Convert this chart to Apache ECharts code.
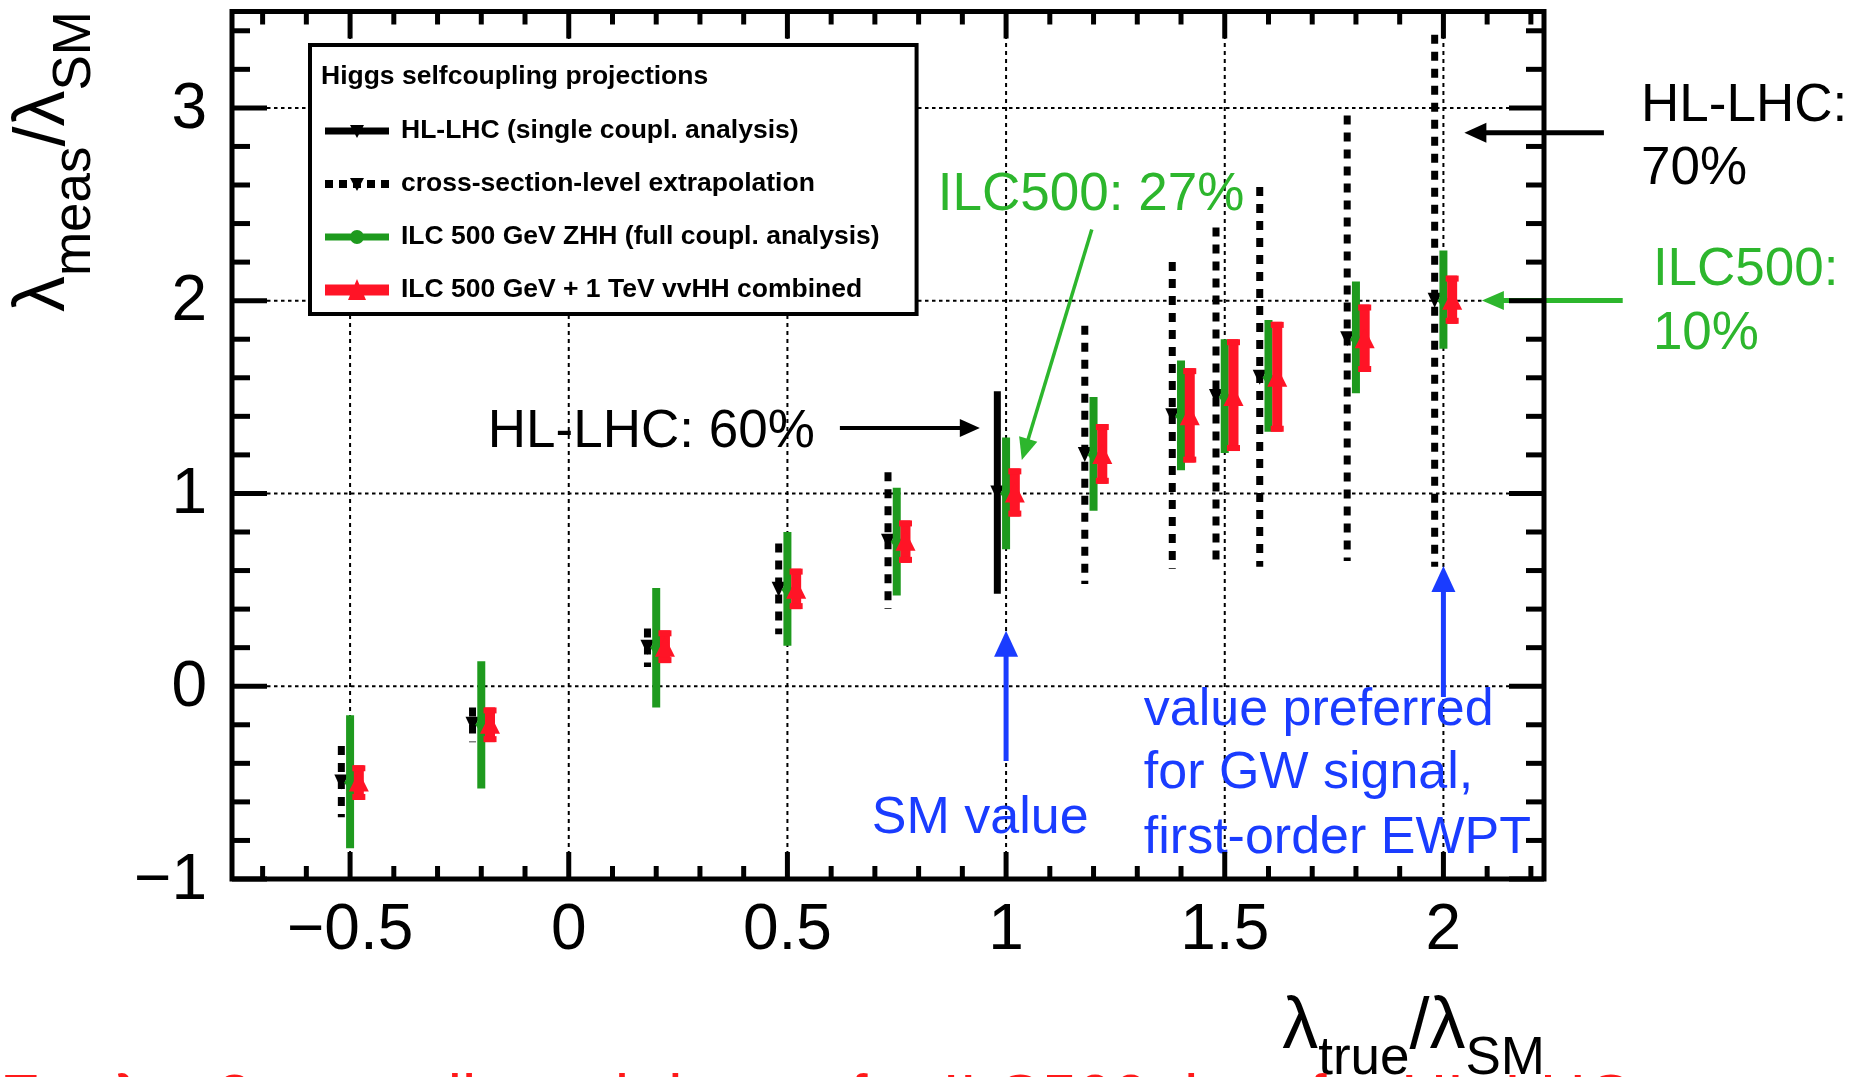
<!DOCTYPE html>
<html><head><meta charset="utf-8">
<script src="https://cdn.jsdelivr.net/npm/echarts@6/dist/echarts.min.js"></script>
<style>html,body{margin:0;padding:0;background:#fff;overflow:hidden}#chart{width:1856px;height:1077px}</style>
</head><body><div id="chart"></div>
<script>
const FONT = "'Liberation Sans', Arial, Helvetica, sans-serif";

// ---------------- data ----------------
const xTicks = [-0.5, 0, 0.5, 1, 1.5, 2];
const xTickLabels = ['\u22120.5', '0', '0.5', '1', '1.5', '2'];
const yTicks = [-1, 0, 1, 2, 3];
const yTickLabels = ['\u22121', '0', '1', '2', '3'];
const yGridValues = [0, 1, 2, 3];

// HL-LHC (single coupl. analysis)
const hlTrue = [1.0];
const hlMeas = [1.0];
const hlLow  = [0.48];
const hlHigh = [1.53];

// cross-section-level extrapolation
const xsecTrue = [-0.5, -0.2, 0.2, 0.5, 0.75, 1.2, 1.4, 1.5, 1.6, 1.8, 2.0];
const xsecMeas = [-0.5, -0.2, 0.2, 0.5, 0.75, 1.2, 1.4, 1.5, 1.6, 1.8, 2.0];
const xsecLow  = [-0.68, -0.29, 0.10, 0.27, 0.40, 0.53, 0.61, 0.63, 0.62, 0.65, 0.62];
const xsecHigh = [-0.31, -0.11, 0.30, 0.74, 1.11, 1.87, 2.20, 2.38, 2.59, 2.96, 3.38];

// ILC 500 GeV ZHH (full coupl. analysis)
const zhhTrue = [-0.5, -0.2, 0.2, 0.5, 0.75, 1.0, 1.2, 1.4, 1.5, 1.6, 1.8, 2.0];
const zhhMeas = [-0.5, -0.2, 0.2, 0.5, 0.75, 1.0, 1.2, 1.4, 1.5, 1.6, 1.8, 2.0];
const zhhLow  = [-0.84, -0.53, -0.11, 0.21, 0.47, 0.71, 0.91, 1.12, 1.21, 1.32, 1.52, 1.75];
const zhhHigh = [-0.15, 0.13, 0.51, 0.80, 1.03, 1.29, 1.50, 1.69, 1.80, 1.90, 2.10, 2.26];

// ILC 500 GeV + 1 TeV vvHH combined
const combTrue = [-0.5, -0.2, 0.2, 0.5, 0.75, 1.0, 1.2, 1.4, 1.5, 1.6, 1.8, 2.0];
const combMeas = [-0.5, -0.2, 0.2, 0.5, 0.75, 1.0, 1.2, 1.4, 1.5, 1.6, 1.8, 2.0];
const combLow  = [-0.59, -0.29, 0.12, 0.40, 0.64, 0.88, 1.05, 1.16, 1.22, 1.32, 1.63, 1.88];
const combHigh = [-0.41, -0.11, 0.29, 0.61, 0.86, 1.13, 1.36, 1.65, 1.80, 1.89, 1.98, 2.13];

const seriesNames = [
  'HL-LHC (single coupl. analysis)',
  'cross-section-level extrapolation',
  'ILC 500 GeV ZHH (full coupl. analysis)',
  'ILC 500 GeV + 1 TeV vvHH combined'
];

// ---------------- styling ----------------
const X_MIN = -0.77, X_MAX = 2.23, Y_MIN = -1, Y_MAX = 3.5;
const C_GREEN = '#1e9a1e', C_RED = '#ff1426', C_TGREEN = '#2db62d', C_BLUE = '#1a3cff';
const TEXT_DY = 2.5; // pixel nudge so that text caps sit where the reference has them

const annotationTexts = [
  {text: 'HL-LHC: 60%', at: [-0.185, 1.329], color: '#000', size: 53},
  {text: 'ILC500: 27%', at: [0.844, 2.558], color: C_TGREEN, size: 53},
  {text: 'HL-LHC:', at: [2.452, 3.020], color: '#000', size: 53},
  {text: '70%', at: [2.452, 2.693], color: '#000', size: 53},
  {text: 'ILC500:', at: [2.479, 2.169], color: C_TGREEN, size: 53},
  {text: '10%', at: [2.479, 1.837], color: C_TGREEN, size: 53},
  {text: 'SM value', at: [0.693, -0.673], color: C_BLUE, size: 52},
  {text: 'value preferred', at: [1.315, -0.113], color: C_BLUE, size: 52},
  {text: 'for GW signal,', at: [1.315, -0.440], color: C_BLUE, size: 52},
  {text: 'first-order EWPT', at: [1.315, -0.776], color: C_BLUE, size: 52}
];
const annotationArrows = [
  {from: [0.620, 1.339], to: [0.940, 1.339], color: '#000', w: 4, L: 20, W: 18},
  {from: [1.196, 2.369], to: [1.036, 1.173], color: C_TGREEN, w: 3.5, L: 22, W: 19},
  {from: [2.367, 2.871], to: [2.048, 2.871], color: '#000', w: 5, L: 22, W: 20},
  {from: [2.410, 2.001], to: [2.088, 2.001], color: C_TGREEN, w: 5, L: 22, W: 19},
  {from: [1.0, -0.388], to: [1.0, 0.288], color: C_BLUE, w: 5, L: 26, W: 24},
  {from: [2.0, -0.056], to: [2.0, 0.624], color: C_BLUE, w: 5, L: 26, W: 24}
];

function range(a, b, step) { const r = []; for (let v = a; v <= b + 1e-9; v += step) r.push(Math.round(v * 1000) / 1000); return r; }
const xMinor = range(-0.7, 2.2, 0.1).filter(v => Math.abs(v * 2 - Math.round(v * 2)) > 1e-6);
const yMinor = range(-0.8, 3.4, 0.2).filter(v => Math.abs(v - Math.round(v)) > 1e-6);

function zip(t, m, l, h) { return t.map((x, i) => [x, m[i], l[i], h[i]]); }

// ---------------- renderers ----------------
function renderGrid(params, api) {
  const cs = params.coordSys;
  const ch = [];
  xTicks.forEach(v => {
    const p = api.coord([v, Y_MIN])[0];
    ch.push({type: 'line', shape: {x1: p, y1: cs.y + cs.height, x2: p, y2: cs.y},
      style: {stroke: '#000', lineWidth: 2, lineDash: [4, 4]}});
  });
  yGridValues.forEach(v => {
    const p = api.coord([X_MIN, v])[1];
    ch.push({type: 'line', shape: {x1: cs.x, y1: p, x2: cs.x + cs.width, y2: p},
      style: {stroke: '#000', lineWidth: 2, lineDash: [3.5, 3.5]}});
  });
  return {type: 'group', children: ch};
}

function renderFrame(params, api) {
  const cs = params.coordSys;
  const L = cs.x, T = cs.y, R = cs.x + cs.width, B = cs.y + cs.height;
  const ch = [];
  const tick = (x1, y1, x2, y2) => ch.push({type: 'line', shape: {x1, y1, x2, y2}, style: {stroke: '#000', lineWidth: 5}});
  xMinor.forEach(v => { const p = api.coord([v, Y_MIN])[0]; tick(p, B, p, B - 13); tick(p, T, p, T + 13); });
  xTicks.forEach((v, i) => {
    const p = api.coord([v, Y_MIN])[0];
    tick(p, B, p, B - 27); tick(p, T, p, T + 27);
    ch.push({type: 'text', x: p, y: B + 50 + TEXT_DY, style: {text: xTickLabels[i], fill: '#000', fontSize: 64, fontFamily: FONT, align: 'center', verticalAlign: 'middle'}});
  });
  yMinor.forEach(v => { const p = api.coord([X_MIN, v])[1]; tick(L, p, L + 18, p); tick(R, p, R - 18, p); });
  yTicks.forEach((v, i) => {
    const p = api.coord([X_MIN, v])[1];
    tick(L, p, L + 35, p); tick(R, p, R - 35, p);
    ch.push({type: 'text', x: L - 25, y: p + 2, style: {text: yTickLabels[i], fill: '#000', fontSize: 64, fontFamily: FONT, align: 'right', verticalAlign: 'middle'}});
  });
  ch.push({type: 'rect', shape: {x: L, y: T, width: cs.width, height: cs.height}, style: {fill: 'none', stroke: '#000', lineWidth: 5}});
  return {type: 'group', children: ch};
}

function makeBarRenderer(kind) {
  return function (params, api) {
    const off = kind === 'black' || kind === 'dashed' ? -0.02 : (kind === 'red' ? 0.02 : 0);
    const x = api.value(0) + off;
    const c = api.coord([x, api.value(1)]);
    const lo = api.coord([x, api.value(2)]);
    const hi = api.coord([x, api.value(3)]);
    const ch = [];
    if (kind === 'black' || kind === 'dashed') {
      ch.push({type: 'line', shape: {x1: hi[0], y1: hi[1], x2: lo[0], y2: lo[1]},
        style: {stroke: '#000', lineWidth: 7, lineDash: kind === 'dashed' ? [9, 8] : null}});
      ch.push({type: 'polygon', shape: {points: [[c[0] - 7, c[1] - 8], [c[0] + 7, c[1] - 8], [c[0], c[1] + 7]]}, style: {fill: '#000'}});
    } else if (kind === 'green') {
      ch.push({type: 'rect', shape: {x: c[0] - 4, y: hi[1], width: 8, height: lo[1] - hi[1]}, style: {fill: C_GREEN}});
      ch.push({type: 'polygon', shape: {points: [[c[0], c[1] - 8], [c[0] + 6, c[1]], [c[0], c[1] + 8], [c[0] - 6, c[1]]]}, style: {fill: C_GREEN}});
    } else {
      ch.push({type: 'rect', shape: {x: c[0] - 5, y: hi[1], width: 10, height: lo[1] - hi[1]}, style: {fill: C_RED}});
      ch.push({type: 'rect', shape: {x: c[0] - 6.5, y: hi[1], width: 13, height: 6}, style: {fill: C_RED}});
      ch.push({type: 'rect', shape: {x: c[0] - 6.5, y: lo[1] - 6, width: 13, height: 6}, style: {fill: C_RED}});
      ch.push({type: 'polygon', shape: {points: [[c[0], c[1] - 11], [c[0] + 10, c[1] + 9], [c[0] - 10, c[1] + 9]]}, style: {fill: C_RED}});
    }
    return {type: 'group', children: ch};
  };
}

function renderAnnotations(params, api) {
  const ch = [];
  annotationArrows.forEach(a => {
    const p0 = api.coord(a.from), p1 = api.coord(a.to);
    const dx = p1[0] - p0[0], dy = p1[1] - p0[1];
    const len = Math.hypot(dx, dy), ux = dx / len, uy = dy / len;
    const bx = p1[0] - ux * a.L, by = p1[1] - uy * a.L;
    ch.push({type: 'line', shape: {x1: p0[0], y1: p0[1], x2: bx + ux * 2, y2: by + uy * 2}, style: {stroke: a.color, lineWidth: a.w}});
    ch.push({type: 'polygon', shape: {points: [[p1[0], p1[1]], [bx - uy * a.W / 2, by + ux * a.W / 2], [bx + uy * a.W / 2, by - ux * a.W / 2]]}, style: {fill: a.color}});
  });
  annotationTexts.forEach(t => {
    const p = api.coord(t.at);
    ch.push({type: 'text', x: p[0], y: p[1] + TEXT_DY, style: {text: t.text, fill: t.color, fontSize: t.size, fontFamily: FONT, align: 'left', verticalAlign: 'middle'}});
  });
  return {type: 'group', children: ch};
}

// axis titles with subscripts
function subscriptTitle(parts, anchor, rotation) {
  const ctx = document.createElement('canvas').getContext('2d');
  const widths = parts.map(p => { ctx.font = p.size + 'px ' + FONT; return ctx.measureText(p.text).width; });
  const total = widths.reduce((a, b) => a + b, 0);
  let x = -total;
  const children = parts.map((p, i) => {
    const el = {type: 'text', x: x, y: p.dy - 0.347 * p.size + 4,
      style: {text: p.text, fontSize: p.size, fontFamily: FONT, fill: '#000', align: 'left', verticalAlign: 'middle'}};
    x += widths[i];
    return el;
  });
  return {type: 'group', x: anchor[0], y: anchor[1], rotation: rotation, z: 10, children: children};
}

// legend icons (box 71 x 28, drawing inside 0..64)
const BOX = 'M0 0 Z M71 28 Z ';
const iconSolid = 'path://' + BOX + 'M0 10.5 L64 10.5 L64 17.5 L0 17.5 Z M25 8 L39 8 L32 21 Z';
const iconDashed = 'path://' + BOX + 'M0 10 L8 10 L8 18 L0 18 Z M14 10 L22 10 L22 18 L14 18 Z M28 10 L36 10 L36 18 L28 18 Z M42 10 L50 10 L50 18 L42 18 Z M56 10 L64 10 L64 18 L56 18 Z M25 8 L39 8 L32 21 Z';
const iconGreen = 'path://' + BOX + 'M0 10.5 L64 10.5 L64 17.5 L0 17.5 Z M25 14 A7 7 0 1 1 39 14 A7 7 0 1 1 25 14 Z';
const iconRed = 'path://' + BOX + 'M0 8.5 L64 8.5 L64 19.5 L0 19.5 Z M32 3 L41 24 L23 24 Z';

const chart = echarts.init(document.getElementById('chart'), null, {renderer: 'canvas', width: 1856, height: 1077});
chart.setOption({
  animation: false,
  backgroundColor: '#fff',
  grid: {left: 232, top: 11.5, width: 1312, height: 867.5, show: false, outerBoundsMode: 'none', containLabel: false},
  xAxis: {type: 'value', min: X_MIN, max: X_MAX, show: false},
  yAxis: {type: 'value', min: Y_MIN, max: Y_MAX, show: false},
  title: [{
    text: 'Higgs selfcoupling projections', left: 321, top: 63, padding: 0,
    textStyle: {fontSize: 26.5, fontWeight: 'bold', fontFamily: FONT, color: '#000'}
  }],
  legend: {
    orient: 'vertical', left: 310, top: 45, padding: [72, 37, 10, 15], itemGap: 25,
    itemWidth: 71, itemHeight: 28, selectedMode: false,
    backgroundColor: '#fff', borderColor: '#000', borderWidth: 4, borderRadius: 0,
    textStyle: {fontSize: 26.5, fontWeight: 'bold', fontFamily: FONT, color: '#000'},
    data: [
      {name: seriesNames[0], icon: iconSolid},
      {name: seriesNames[1], icon: iconDashed},
      {name: seriesNames[2], icon: iconGreen},
      {name: seriesNames[3], icon: iconRed}
    ]
  },
  graphic: [
    subscriptTitle([
      {text: '\u03bb', size: 72, dy: 0}, {text: 'true', size: 53, dy: 25},
      {text: '/\u03bb', size: 72, dy: 0}, {text: 'SM', size: 53, dy: 25}
    ], [1545, 1049], 0),
    subscriptTitle([
      {text: '\u03bb', size: 72, dy: 0}, {text: 'meas', size: 53, dy: 25},
      {text: '/\u03bb', size: 72, dy: 0}, {text: 'SM', size: 53, dy: 25}
    ], [65, 11], Math.PI / 2),
    {type: 'text', x: 0, y: 1102, z: 10, style: {text: 'For \u03bb \u2248 2: overall much better for ILC500 than for HL-LHC', fill: '#ff1a1a', fontSize: 64, fontFamily: FONT, align: 'left', verticalAlign: 'middle'}}
  ],
  series: [
    {type: 'custom', name: '_grid', clip: false, silent: true, data: [[0, 0]], renderItem: renderGrid},
    {type: 'custom', name: seriesNames[0], clip: false, silent: true, itemStyle: {color: '#000'},
      data: zip(hlTrue, hlMeas, hlLow, hlHigh), renderItem: makeBarRenderer('black')},
    {type: 'custom', name: seriesNames[1], clip: false, silent: true, itemStyle: {color: '#000'},
      data: zip(xsecTrue, xsecMeas, xsecLow, xsecHigh), renderItem: makeBarRenderer('dashed')},
    {type: 'custom', name: seriesNames[2], clip: false, silent: true, itemStyle: {color: C_GREEN},
      data: zip(zhhTrue, zhhMeas, zhhLow, zhhHigh), renderItem: makeBarRenderer('green')},
    {type: 'custom', name: seriesNames[3], clip: false, silent: true, itemStyle: {color: C_RED},
      data: zip(combTrue, combMeas, combLow, combHigh), renderItem: makeBarRenderer('red')},
    {type: 'custom', name: '_annotations', clip: false, silent: true, data: [[0, 0]], renderItem: renderAnnotations},
    {type: 'custom', name: '_frame', clip: false, silent: true, data: [[0, 0]], renderItem: renderFrame}
  ]
});
</script>
</body></html>
